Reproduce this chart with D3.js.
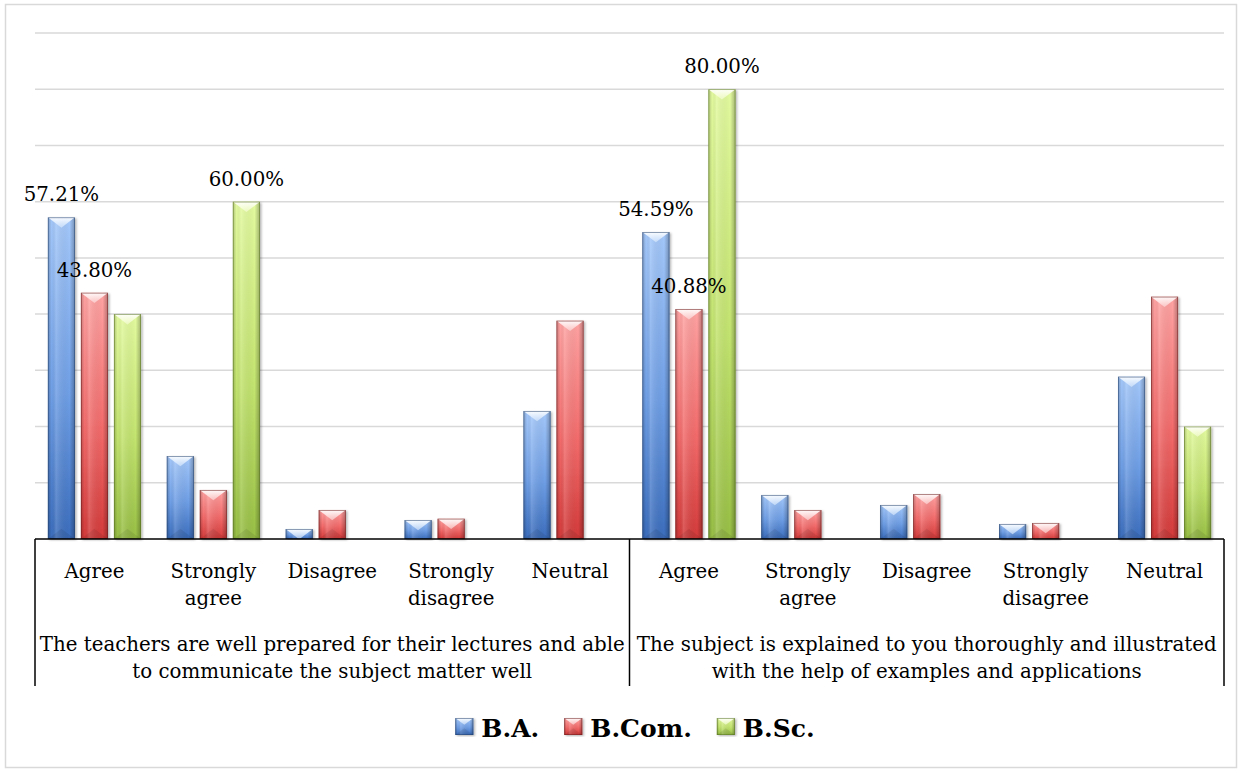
<!DOCTYPE html>
<html>
<head>
<meta charset="utf-8">
<script src="https://cdn.jsdelivr.net/npm/d3@7/dist/d3.min.js"></script>
<style>
  html, body { margin: 0; padding: 0; background: #fff; }
  svg { display: block; font-family: 'DejaVu Serif', serif; }
</style>
</head>
<body>
<div id="chart"></div>
<script>
// two survey statements, each with the same five answers
const questions = [
  'The teachers are well prepared for their lectures and able to communicate the subject matter well',
  'The subject is explained to you thoroughly and illustrated with the help of examples and applications'
];
const answers = ['Agree', 'Strongly agree', 'Disagree', 'Strongly disagree', 'Neutral'];
const seriesNames = ['B.A.', 'B.Com.', 'B.Sc.'];

// percent, question 1 answers then question 2 answers
const baValues   = [57.21, 14.76, 1.78, 3.38, 22.77, 54.59, 7.83, 6.05, 2.67, 28.87];
const bcomValues = [43.80, 8.72, 5.16, 3.61, 38.83, 40.88, 5.16, 8.00, 2.85, 43.10];
const bscValues  = [40.00, 60.00, 0, 0, 0, 80.00, 0, 0, 0, 20.00];

// 1 = point carries a data label
const baLabels   = [1, 0, 0, 0, 0, 1, 0, 0, 0, 0];
const bcomLabels = [1, 0, 0, 0, 0, 1, 0, 0, 0, 0];
const bscLabels  = [0, 1, 0, 0, 0, 1, 0, 0, 0, 0];

const gridTicks = [10, 20, 30, 40, 50, 60, 70, 80, 90];

const W = 1243, H = 771;
const plot = { left: 35, right: 1224, top: 33, bottom: 539 };

const seriesValues = [baValues, bcomValues, bscValues];
const seriesLabels = [baLabels, bcomLabels, bscLabels];
const looks = [
  { top: '#a4c8fa', mid: '#6f9fe6', bottom: '#3b6dbd', edge: '#24426e', cap: '#dcecff' },
  { top: '#ffa3a3', mid: '#f36b6b', bottom: '#d43a3a', edge: '#6e1d1d', cap: '#ffe0e0' },
  { top: '#e3fa9f', mid: '#c3e46f', bottom: '#98bf45', edge: '#56721f', cap: '#f8ffd9' }
];

const svg = d3.select('#chart').append('svg')
  .attr('width', W).attr('height', H)
  .attr('viewBox', `0 0 ${W} ${H}`);

const defs = svg.append('defs');
looks.forEach((c, i) => {
  const g = defs.append('linearGradient').attr('id', 'body' + i)
    .attr('x1', 0).attr('y1', 0).attr('x2', 0).attr('y2', 1);
  g.append('stop').attr('offset', '0%').attr('stop-color', c.top);
  g.append('stop').attr('offset', '55%').attr('stop-color', c.mid);
  g.append('stop').attr('offset', '100%').attr('stop-color', c.bottom);
  const cap = defs.append('linearGradient').attr('id', 'cap' + i)
    .attr('x1', 0).attr('y1', 0).attr('x2', 0).attr('y2', 1);
  cap.append('stop').attr('offset', '0%').attr('stop-color', '#fff').attr('stop-opacity', 0.95);
  cap.append('stop').attr('offset', '100%').attr('stop-color', c.cap).attr('stop-opacity', 0.6);
});
const sides = defs.append('linearGradient').attr('id', 'sides')
  .attr('x1', 0).attr('y1', 0).attr('x2', 1).attr('y2', 0);
sides.append('stop').attr('offset', '0%').attr('stop-color', '#000').attr('stop-opacity', 0.22);
sides.append('stop').attr('offset', '14%').attr('stop-color', '#000').attr('stop-opacity', 0);
sides.append('stop').attr('offset', '30%').attr('stop-color', '#fff').attr('stop-opacity', 0.15);
sides.append('stop').attr('offset', '80%').attr('stop-color', '#000').attr('stop-opacity', 0);
sides.append('stop').attr('offset', '100%').attr('stop-color', '#000').attr('stop-opacity', 0.28);
const shadow = defs.append('filter').attr('id', 'shadow')
  .attr('x', '-20%').attr('y', '-5%').attr('width', '150%').attr('height', '115%');
shadow.append('feDropShadow').attr('dx', 1.5).attr('dy', 1).attr('stdDeviation', 1.2)
  .attr('flood-color', '#000').attr('flood-opacity', 0.3);

svg.append('rect').attr('width', W).attr('height', H).attr('fill', '#fff');
svg.append('rect')
  .attr('x', 5.5).attr('y', 4.5).attr('width', 1231).attr('height', 763)
  .attr('fill', 'none').attr('stroke', '#d9d9d9').attr('stroke-width', 1.5);

const y = d3.scaleLinear().domain([0, 90]).range([plot.bottom, plot.top]);
const xq = d3.scaleBand().domain(d3.range(questions.length)).range([plot.left, plot.right]);
const xa = d3.scaleBand().domain(d3.range(answers.length)).range([0, xq.bandwidth()]);
const xs = d3.scaleBand().domain(d3.range(seriesNames.length)).range([0, xa.bandwidth()])
  .paddingInner(0.18).paddingOuter(0.39);

// gridlines
svg.append('g').selectAll('line').data(gridTicks).join('line')
  .attr('x1', plot.left).attr('x2', plot.right)
  .attr('y1', d => y(d)).attr('y2', d => y(d))
  .attr('stroke', '#d9d9d9').attr('stroke-width', 1.5);

const points = [];
seriesValues.forEach((vals, s) => {
  vals.forEach((v, k) => {
    const q = Math.floor(k / answers.length), a = k % answers.length;
    points.push({ s, q, a, value: v, label: seriesLabels[s][k] });
  });
});

function drawBevelBar(sel, s, x, top, w, h) {
  const c = looks[s];
  sel.append('rect').attr('x', x).attr('y', top).attr('width', w).attr('height', h)
    .attr('fill', `url(#body${s})`).attr('filter', 'url(#shadow)');
  sel.append('rect').attr('x', x).attr('y', top).attr('width', w).attr('height', h)
    .attr('fill', 'url(#sides)');
  const d = Math.min(w * 0.38, h);
  const frac = d / (w * 0.38);
  sel.append('path')
    .attr('d', `M${x},${top}L${x + w},${top}L${x + w / 2 + (w / 2) * (1 - frac)},${top + d}L${x + w / 2 - (w / 2) * (1 - frac)},${top + d}Z`)
    .attr('fill', `url(#cap${s})`);
  if (h > 2 * d) {
    sel.append('path')
      .attr('d', `M${x},${top + h}L${x + w},${top + h}L${x + w / 2},${top + h - d}Z`)
      .attr('fill', '#000').attr('opacity', 0.08);
  }
  sel.append('rect').attr('x', x + 0.4).attr('y', top + 0.4).attr('width', w - 0.8).attr('height', Math.max(0, h - 0.8))
    .attr('fill', 'none').attr('stroke', c.edge).attr('stroke-width', 0.8).attr('stroke-opacity', 0.65);
}

const barLayer = svg.append('g');
points.filter(p => p.value > 0).forEach(p => {
  const x = xq(p.q) + xa(p.a) + xs(p.s);
  const top = y(p.value);
  drawBevelBar(barLayer.append('g'), p.s, x, top, xs.bandwidth(), y(0) - top);
});

// data labels
svg.append('g').selectAll('text').data(points.filter(p => p.label)).join('text')
  .attr('x', p => xq(p.q) + xa(p.a) + xs(p.s) + xs.bandwidth() / 2)
  .attr('y', p => y(p.value) - 16)
  .attr('text-anchor', 'middle')
  .attr('font-size', 19.8).attr('fill', '#000')
  .text(p => p.value.toFixed(2) + '%');

// axis lines
const axis = svg.append('g').attr('stroke', '#000').attr('stroke-width', 1.5);
axis.append('line').attr('x1', plot.left).attr('x2', plot.right)
  .attr('y1', y(0)).attr('y2', y(0));
const dividers = [plot.left].concat(d3.range(questions.length).map(q => xq(q) + xq.bandwidth()));
axis.selectAll('line.div').data(dividers).join('line').attr('class', 'div')
  .attr('x1', d => d).attr('x2', d => d)
  .attr('y1', y(0)).attr('y2', 686);

function wrapLines(text, maxWidth, size, weight) {
  const probe = svg.append('text').attr('font-size', size).attr('font-weight', weight || 'normal');
  const words = text.split(' ');
  const lines = [];
  let line = '';
  words.forEach(wd => {
    const test = line ? line + ' ' + wd : wd;
    probe.text(test);
    if (line && probe.node().getComputedTextLength() > maxWidth) {
      lines.push(line);
      line = wd;
    } else {
      line = test;
    }
  });
  lines.push(line);
  probe.remove();
  return lines;
}

// answer labels
const catLayer = svg.append('g').attr('font-size', 19.8).attr('text-anchor', 'middle').attr('fill', '#000');
d3.range(questions.length).forEach(q => {
  answers.forEach((a, i) => {
    const t = catLayer.append('text').attr('x', xq(q) + xa(i) + xa.bandwidth() / 2);
    wrapLines(a, xa.bandwidth() - 12, 19.8).forEach((ln, j) => {
      t.append('tspan').attr('x', xq(q) + xa(i) + xa.bandwidth() / 2)
        .attr('y', 578 + j * 27).text(ln);
    });
  });
});

// statement labels
const qLayer = svg.append('g').attr('font-size', 19.8).attr('text-anchor', 'middle').attr('fill', '#000');
questions.forEach((qt, q) => {
  const cx = xq(q) + xq.bandwidth() / 2;
  const t = qLayer.append('text');
  wrapLines(qt, xq.bandwidth() + 8, 19.8).forEach((ln, j) => {
    t.append('tspan').attr('x', cx).attr('y', 651 + j * 27).text(ln);
  });
});

// legend
const legend = svg.append('g');
const lgSize = 25;
let lx = 0;
const items = seriesNames.map((nm, s) => {
  const g = legend.append('g');
  drawBevelBar(g, s, lx, 718, 18, 17);
  const t = g.append('text').attr('x', lx + 26).attr('y', 737)
    .attr('font-size', lgSize).attr('font-weight', 'bold').attr('fill', '#000').text(nm);
  lx += 26 + t.node().getComputedTextLength() + 25;
  return g;
});
const lgWidth = lx - 25;
legend.attr('transform', `translate(${635 - lgWidth / 2},0)`);
</script>
</body>
</html>
